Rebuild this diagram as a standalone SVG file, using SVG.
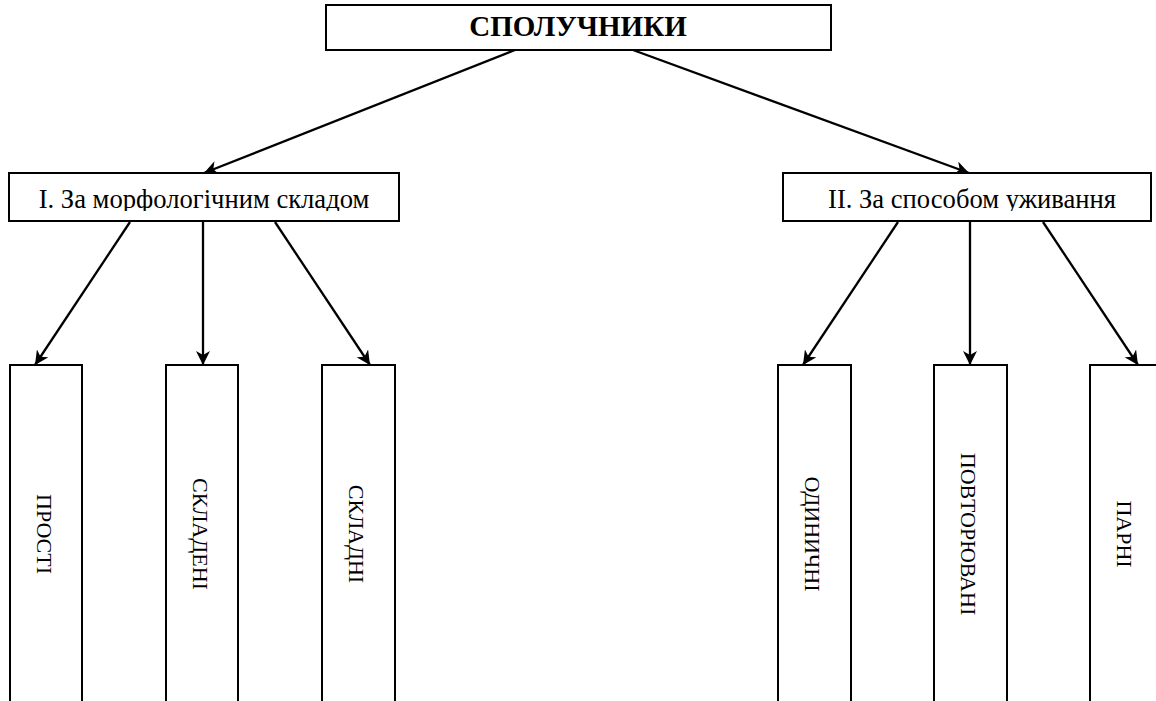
<svg xmlns="http://www.w3.org/2000/svg" width="1156" height="701" viewBox="0 0 1156 701">
<style>
.box{fill:#fff;stroke:#000;stroke-width:2}
.t{font-family:"Liberation Serif","Times New Roman",serif;fill:#000}
.c{stroke:#000;stroke-width:2.3;fill:none;marker-end:url(#ah)}
</style>
<defs>
<marker id="ah" viewBox="0 0 14 14" refX="14" refY="7" markerWidth="14" markerHeight="14" markerUnits="userSpaceOnUse" orient="auto">
<path d="M0,0 L14,7 L0,14 L4,7 Z" fill="#000"/>
</marker>
<clipPath id="c1"><rect x="10" y="174" width="388" height="37"/></clipPath>
<clipPath id="c2"><rect x="784" y="174" width="372" height="37"/></clipPath>
</defs>
<g id="connectors">
<line class="c" x1="515" y1="50" x2="204" y2="173"/>
<line class="c" x1="633" y1="50" x2="969" y2="173"/>
<line class="c" x1="130" y1="222" x2="35" y2="365"/>
<line class="c" x1="203" y1="222" x2="203" y2="365"/>
<line class="c" x1="275" y1="222" x2="370" y2="365"/>
<line class="c" x1="898" y1="222" x2="803" y2="365"/>
<line class="c" x1="970" y1="222" x2="970" y2="365"/>
<line class="c" x1="1043" y1="222" x2="1138" y2="365"/>
</g>
<g id="root">
<rect class="box" x="326" y="5" width="505" height="45"/>
<text class="t" x="578" y="36" font-size="29" font-weight="bold" text-anchor="middle">СПОЛУЧНИКИ</text>
</g>
<g id="morph">
<rect class="box" x="9" y="173" width="390" height="48"/>
<text class="t" x="204" y="208" font-size="26.6" text-anchor="middle" clip-path="url(#c1)">I. За морфологічним складом</text>
</g>
<g id="usage">
<rect class="box" x="783" y="173" width="368" height="48"/>
<text class="t" x="972" y="208" font-size="26.6" text-anchor="middle" clip-path="url(#c2)">II. За способом уживання</text>
</g>
<g id="prosti">
<rect class="box" x="10" y="365" width="72" height="345"/>
<text class="t" font-size="22" text-anchor="middle" transform="translate(45,534) rotate(90)" y="8">ПРОСТІ</text>
</g>
<g id="skladeni">
<rect class="box" x="166" y="365" width="72" height="345"/>
<text class="t" font-size="22" text-anchor="middle" transform="translate(201,534) rotate(90)" y="8">СКЛАДЕНІ</text>
</g>
<g id="skladni">
<rect class="box" x="322" y="365" width="73" height="345"/>
<text class="t" font-size="22" text-anchor="middle" transform="translate(357,534) rotate(90)" y="8">СКЛАДНІ</text>
</g>
<g id="odynychni">
<rect class="box" x="778" y="365" width="73" height="345"/>
<text class="t" font-size="22" text-anchor="middle" transform="translate(813,534) rotate(90)" y="8">ОДИНИЧНІ</text>
</g>
<g id="povtoriuvani">
<rect class="box" x="934" y="365" width="73" height="345"/>
<text class="t" font-size="22" text-anchor="middle" transform="translate(969,534) rotate(90)" y="8">ПОВТОРЮВАНІ</text>
</g>
<g id="parni">
<rect class="box" x="1090" y="365" width="73" height="345"/>
<text class="t" font-size="22" text-anchor="middle" transform="translate(1125,534) rotate(90)" y="8">ПАРНІ</text>
</g>
</svg>
